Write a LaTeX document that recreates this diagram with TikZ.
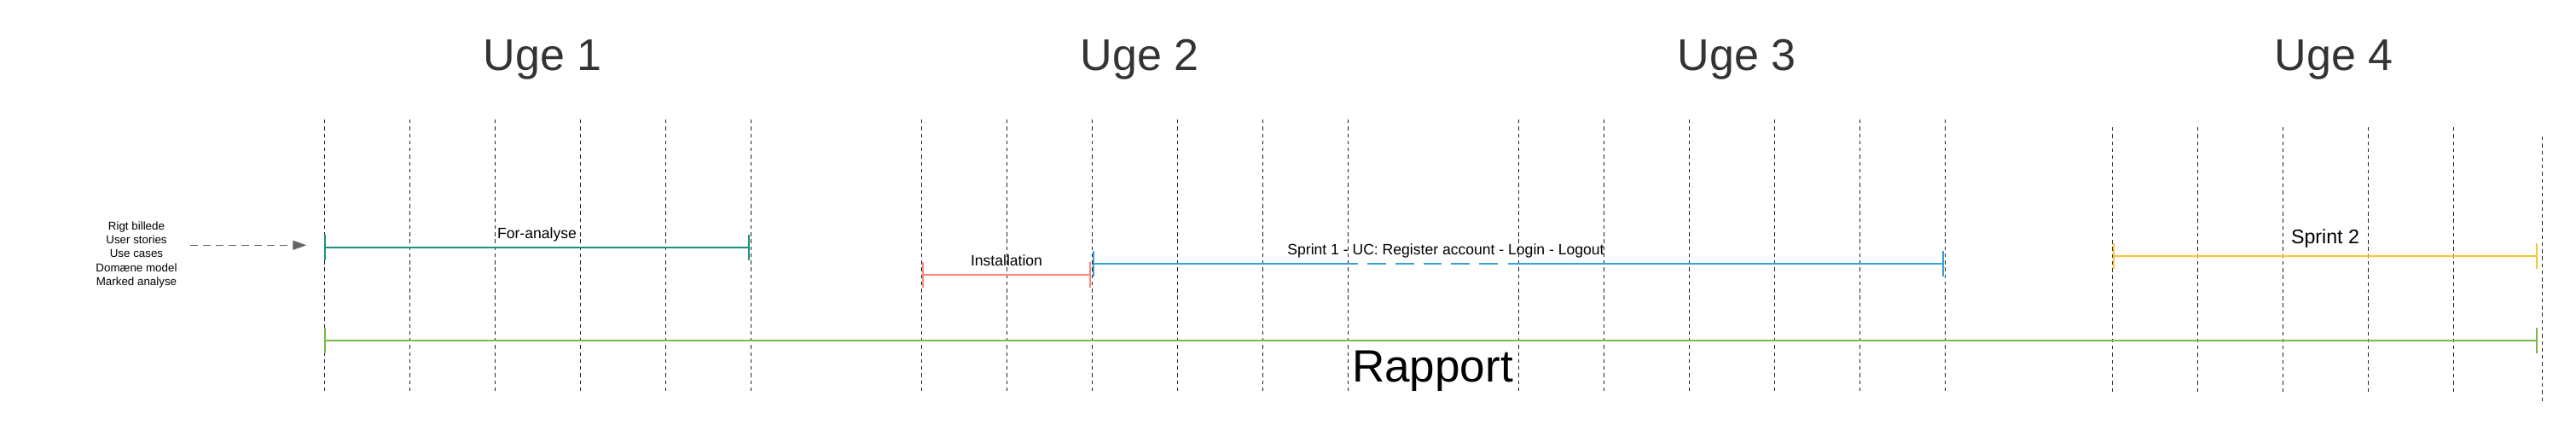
\documentclass[tikz,border=0pt]{standalone}
\usepackage{fontspec}
\setmainfont{Liberation Sans}
\usetikzlibrary{arrows.meta,calc,positioning}
\definecolor{PlanGrid}{HTML}{1F2329}
\definecolor{PlanHead}{HTML}{333333}
\definecolor{PlanTeal}{HTML}{19937A}
\definecolor{PlanSalmon}{HTML}{F78A7C}
\definecolor{PlanBlue}{HTML}{3A9FDA}
\definecolor{PlanYellow}{HTML}{FFC233}
\definecolor{PlanGreen}{HTML}{7AB648}
\definecolor{PlanArrow}{HTML}{666666}
\tikzset{
  daygrid/.style={PlanGrid,line width=0.28pt,dash pattern=on 1.25pt off 1.1pt},
  taskbar/.style={line width=0.02cm,{Bar[width=0.3cm]}-{Bar[width=0.3cm]}},
  weeklabel/.style={PlanHead,font=\fontsize{14.8}{17}\selectfont,anchor=base,inner sep=0pt},
  tasklabel/.style={font=\fontsize{5}{6}\selectfont,anchor=base,inner sep=0pt},
}

\begin{document}
\begin{tikzpicture}
  \useasboundingbox (0,0) rectangle (30.20,-5.11);
  % days
  \foreach \x in {3.8,4.8,...,8.8,10.8,11.8,...,15.8,17.8,18.8,...,22.8}
    \draw[daygrid] (\x,-1.40) -- (\x,-4.60);
  \foreach \x in {24.765,25.765,...,28.765}
    \draw[daygrid] (\x,-1.49) -- (\x,-4.61);
  \draw[daygrid] (29.80,-1.60) -- (29.80,-4.71);
  % weeks
  \node[weeklabel] (uge1) at (6.36,-0.827) {Uge 1};
  \node[weeklabel] (uge2) at (13.36,-0.827) {Uge 2};
  \node[weeklabel] (uge3) at (20.36,-0.827) {Uge 3};
  \node[weeklabel] (uge4) at (27.36,-0.827) {Uge 4};
  % tasks
  \coordinate (fa-start) at (3.80,-2.90);
  \coordinate (fa-end) at (8.79,-2.90);
  \draw[taskbar,PlanTeal] (fa-start) -- (fa-end);
  \node[tasklabel] (fa-label) at (6.295,-2.793) {For-analyse};
  \coordinate (inst-start) at (10.807,-3.217);
  \coordinate (inst-end) at (12.793,-3.217);
  \draw[taskbar,PlanSalmon] (inst-start) -- (inst-end);
  \node[tasklabel] (inst-label) at (11.80,-3.117) {Installation};
  \coordinate (s1-start) at (12.807,-3.09);
  \coordinate (s1-end) at (22.79,-3.09);
  \draw[line width=0.02cm,PlanBlue,{Bar[width=0.3cm]}-] (s1-start) -- (15.917,-3.09);
  \draw[line width=0.02cm,PlanBlue,dash pattern=on 0.217cm off 0.110cm] (16.033,-3.09) -- (17.567,-3.09);
  \draw[line width=0.02cm,PlanBlue,-{Bar[width=0.3cm]}] (17.683,-3.09) -- (s1-end);
  \node[tasklabel] (s1-label) at (16.95,-2.983) {Sprint 1 - UC: Register account - Login - Logout};
  \coordinate (s2-start) at (24.767,-3.00);
  \coordinate (s2-end) at (29.75,-3.00);
  \draw[taskbar,PlanYellow] (s2-start) -- (s2-end);
  \node[tasklabel,font=\fontsize{6.6}{8}\selectfont] (s2-label) at (27.26,-2.853) {Sprint 2};
  \coordinate (rap-start) at (3.80,-3.99);
  \coordinate (rap-end) at (29.75,-3.99);
  \draw[taskbar,PlanGreen] (rap-start) -- (rap-end);
  \node[tasklabel,font=\fontsize{15.1}{18}\selectfont] (rap-label) at (16.795,-4.47) {Rapport};
  % inputs
  \node[align=center,inner sep=0pt,font=\fontsize{3.8}{4.64}\selectfont] (inputs) at (1.60,-2.985)
    {Rigt billede\\User stories\\Use cases\\Domæne model\\Marked analyse};
  \coordinate (ask-end) at (3.593,-2.873);
  \draw[PlanArrow,line width=0.35pt,dash pattern=on 0.09cm off 0.06cm,-{Triangle[length=0.16cm,width=0.11cm]}]
    ($(inputs.east |- ask-end)+(0.147,0)$) -- (ask-end);
\end{tikzpicture}
\end{document}
